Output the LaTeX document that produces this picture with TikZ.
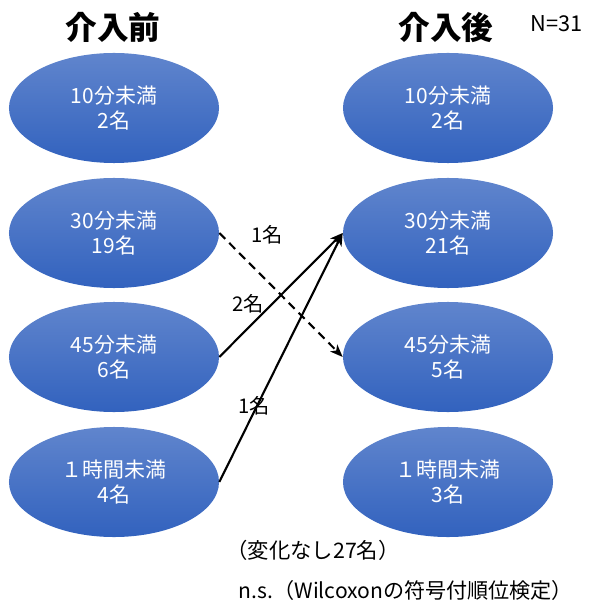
\documentclass[tikz,border=0pt]{standalone}
\usepackage{fontspec}
\setmainfont{Noto Sans CJK JP}
\usepackage{tikz}
\usetikzlibrary{shapes.geometric,arrows.meta}

\begin{document}
\begin{tikzpicture}[x=0.025cm,y=-0.025cm,
  group/.style={ellipse,minimum width=5.25cm,minimum height=2.75cm,inner sep=0pt,
    top color={rgb,255:red,96;green,133;blue,205},bottom color={rgb,255:red,50;green,98;blue,190},
    text=white,align=center,font=\fontsize{14.9}{17.8}\selectfont},
  title/.style={font=\fontsize{22.5}{26}\selectfont\bfseries},
  move/.style={line width=1.5pt,-{Stealth[length=9pt,width=7pt,inset=2.5pt]}},
  count/.style={font=\fontsize{14.4}{17}\selectfont}]
\useasboundingbox (0,0) rectangle (600,602);

\node[title] (before) at (113,27) {介入前};
\node[title] (after) at (446,27) {介入後};
\node[font=\fontsize{15.5}{18}\selectfont] (n) at (557,24) {N=31};

\node[group] (b10) at (114,108) {10分未満\\2名};
\node[group] (b30) at (114,233) {30分未満\\19名};
\node[group] (b45) at (114,357) {45分未満\\6名};
\node[group] (b60) at (114,482) {１時間未満\\4名};

\node[group] (a10) at (448,108) {10分未満\\2名};
\node[group] (a30) at (448,233) {30分未満\\21名};
\node[group] (a45) at (448,357) {45分未満\\5名};
\node[group] (a60) at (448,482) {１時間未満\\3名};

\draw[move,dash pattern=on 6pt off 4pt] (b30.east) -- (a45.west);
\draw[move] (b45.east) -- (a30.west);
\draw[move] (b60.east) -- (a30.west);

\node[count] (m1) at (267,235) {1名};
\node[count] (m2) at (248,304) {2名};
\node[count] (m3) at (254,406) {1名};

\node[count,font=\fontsize{15.2}{18}\selectfont] (same) at (313,550) {（変化なし27名）};
\node[count,font=\fontsize{15}{18}\selectfont] (test) at (406,590) {n.s.（Wilcoxonの符号付順位検定）};
\end{tikzpicture}
\end{document}
